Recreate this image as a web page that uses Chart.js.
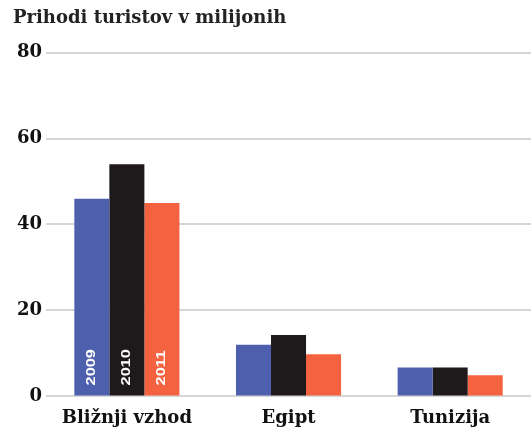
<!DOCTYPE html>
<html>
<head>
<meta charset="utf-8">
<script src="https://cdn.jsdelivr.net/npm/chart.js@4/dist/chart.umd.min.js"></script>
<style>
html,body{margin:0;padding:0;background:#fff;}
#wrap{width:531px;height:432px;position:relative;}
</style>
</head>
<body>
<div id="wrap"><canvas id="c"></canvas></div>
<script>
const titleText = 'Prihodi turistov v milijonih';
const categories = ['Bližnji vzhod', 'Egipt', 'Tunizija'];
const years = ['2009', '2010', '2011'];
const values2009 = [46, 12, 6.7];
const values2010 = [54, 14.3, 6.7];
const values2011 = [45, 9.8, 4.9];
const yTicks = [0, 20, 40, 60, 80];
const colors = ['#4e5fae', '#1e191a', '#f4623f'];

const seriesValues = [values2009, values2010, values2011];

const yearLabelPlugin = {
  id: 'yearLabels',
  afterDatasetsDraw(chart) {
    const ctx = chart.ctx;
    ctx.save();
    ctx.fillStyle = '#ffffff';
    ctx.font = 'bold 13px "Liberation Sans", Arial, sans-serif';
    ctx.textAlign = 'left';
    ctx.textBaseline = 'middle';
    chart.data.datasets.forEach((ds, i) => {
      const bar = chart.getDatasetMeta(i).data[0];
      const baseY = chart.scales.y.getPixelForValue(0);
      ctx.save();
      ctx.translate(bar.x, baseY - 11);
      ctx.rotate(-Math.PI / 2);
      ctx.scale(1.25, 1);
      ctx.fillText(ds.label, 0, 0);
      ctx.restore();
    });
    ctx.restore();
  }
};

new Chart(document.getElementById('c'), {
  type: 'bar',
  data: {
    labels: categories,
    datasets: years.map((y, i) => ({
      label: y,
      data: seriesValues[i],
      backgroundColor: colors[i],
      borderWidth: 0,
      categoryPercentage: 0.65,
      barPercentage: 1.0
    }))
  },
  options: {
    responsive: true,
    maintainAspectRatio: false,
    animation: false,
    layout: { padding: { left: 13, right: 0, top: 8, bottom: -8 } },
    plugins: {
      legend: { display: false },
      tooltip: { enabled: false },
      title: {
        display: true,
        text: titleText,
        align: 'start',
        color: '#222',
        font: { family: '"DejaVu Serif", serif', weight: 'bold', size: 18 },
        padding: { top: 0, bottom: 23 }
      }
    },
    scales: {
      x: {
        grid: { display: false, drawTicks: false },
        border: { display: false },
        ticks: {
          color: '#111',
          padding: 11,
          font: { family: '"DejaVu Serif", serif', weight: 'bold', size: 18 }
        }
      },
      y: {
        min: 0,
        max: 80,
        afterBuildTicks(scale) { scale.ticks = yTicks.map(v => ({ value: v })); },
        grid: { color: '#d6d6d6', lineWidth: 2, drawTicks: false },
        border: { display: false },
        ticks: {
          color: '#111',
          padding: 4,
          font: { family: '"DejaVu Serif", serif', weight: 'bold', size: 18 }
        }
      }
    }
  },
  plugins: [yearLabelPlugin]
});
</script>
</body>
</html>
